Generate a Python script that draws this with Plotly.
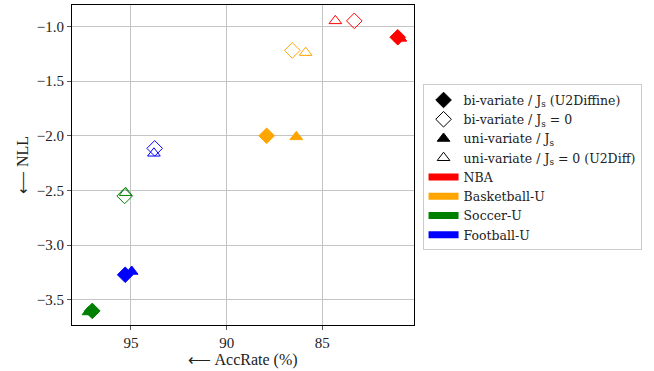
import plotly.graph_objects as go

# Variants (order): bi-variate/Js, bi-variate/Js=0, uni-variate/Js, uni-variate/Js=0
variant_labels = [
    "bi-variate / J<sub>s</sub> (U2Diffine)",
    "bi-variate / J<sub>s</sub> = 0",
    "uni-variate / J<sub>s</sub>",
    "uni-variate / J<sub>s</sub> = 0 (U2Diff)",
]
variant_symbols = ["diamond", "diamond-open", "triangle-up", "triangle-up-open"]
variant_sizes = [12, 12, 11, 11]

datasets = ["NBA", "Basketball-U", "Soccer-U", "Football-U"]
dataset_colors = ["red", "orange", "green", "blue"]

acc_nba = [81.06, 83.33, 80.92, 84.32]
nll_nba = [-1.10, -0.95, -1.11, -0.95]
acc_bball = [87.91, 86.57, 86.36, 85.87]
nll_bball = [-2.00, -1.22, -2.01, -1.24]
acc_soccer = [97.02, 95.33, 97.22, 95.28]
nll_soccer = [-3.60, -2.55, -3.61, -2.52]
acc_football = [95.30, 93.76, 94.96, 93.80]
nll_football = [-3.27, -2.115, -3.24, -2.16]

acc_all = [acc_nba, acc_bball, acc_soccer, acc_football]
nll_all = [nll_nba, nll_bball, nll_soccer, nll_football]

x_ticks = [95, 90, 85]
y_ticks = [-1.0, -1.5, -2.0, -2.5, -3.0, -3.5]

FONT = "Liberation Serif"
LEGEND_FONT = "DejaVu Serif"

fig = go.Figure()

for d, color in enumerate(dataset_colors):
    for v in range(4):
        fig.add_trace(go.Scatter(
            x=[acc_all[d][v]], y=[nll_all[d][v]], mode="markers",
            marker=dict(symbol=variant_symbols[v], size=variant_sizes[v], color=color,
                        line=dict(color=color, width=1)),
            showlegend=False, hoverinfo="x+y"))

# legend entries: markers
for v in range(4):
    fig.add_trace(go.Scatter(
        x=[None], y=[None], mode="markers", name=variant_labels[v],
        marker=dict(symbol=variant_symbols[v], size=variant_sizes[v], color="black",
                    line=dict(color="black", width=1))))
# legend entries: color patches
for d, color in enumerate(dataset_colors):
    fig.add_trace(go.Scatter(
        x=[None], y=[None], mode="lines", name=datasets[d],
        line=dict(color=color, width=7)))

axis_common = dict(
    showgrid=True, gridcolor="#c4c4c4", gridwidth=1,
    showline=True, linecolor="black", linewidth=1.2, mirror=True,
    ticks="outside", ticklen=4, tickcolor="#555", zeroline=False,
    tickfont=dict(family=FONT, size=15, color="#222"),
)

fig.update_layout(
    width=654, height=371,
    margin=dict(l=72, r=240, t=5, b=46, autoexpand=False),
    paper_bgcolor="white", plot_bgcolor="white",
    font=dict(family=FONT, size=15, color="#222"),
    xaxis=dict(range=[98.08, 80.21], tickvals=x_ticks, ticktext=[str(t) for t in x_ticks],
               title=dict(text="⟵ AccRate (%)", standoff=2, font=dict(family=FONT, size=16)),
               automargin=False, **axis_common),
    yaxis=dict(range=[-3.729, -0.805], tickvals=y_ticks,
               ticktext=["−%.1f" % abs(t) for t in y_ticks],
               title=dict(text="⟵ NLL", standoff=4, font=dict(family=FONT, size=16)),
               automargin=False, **axis_common),
    legend=dict(x=1.025, y=0.752, xanchor="left", yanchor="top",
                bordercolor="#cccccc", borderwidth=1, bgcolor="white",
                font=dict(family=LEGEND_FONT, size=12.5, color="#222"), itemsizing="trace",
                tracegroupgap=0),
)

fig.write_html("out.html", config={"displayModeBar": False},
               post_script="document.body.style.margin='0';document.body.style.overflow='hidden';")
